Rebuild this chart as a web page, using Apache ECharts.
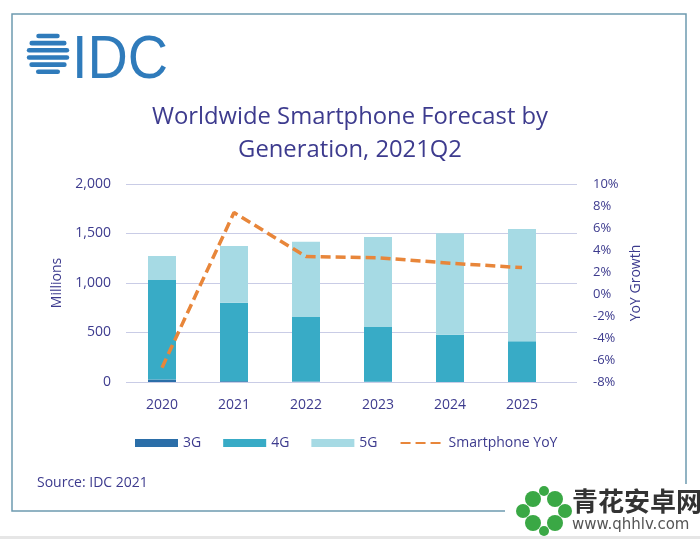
<!DOCTYPE html>
<html>
<head>
<meta charset="utf-8">
<script src="https://cdn.jsdelivr.net/npm/echarts@6/dist/echarts.min.js"></script>
<style>html,body{margin:0;padding:0;background:#fff;}#c{width:700px;height:539px;}</style>
</head>
<body>
<div id="c"></div>
<script>
const categories = ['2020', '2021', '2022', '2023', '2024', '2025'];
const g3 = [25, 8, 4, 2, 1, 0.5];
const g4 = [1005, 793, 653, 554, 477, 411];
const g5 = [243, 573, 760, 909, 1024, 1134];
const yoy = [-6.7, 7.4, 3.4, 3.3, 2.8, 2.4];
const leftTicks = [0, 500, 1000, 1500, 2000];
const rightTicks = [-8, -6, -4, -2, 0, 2, 4, 6, 8, 10];

const txt = '#3d3b8e';
const font = '"Open Sans", "Noto Sans", sans-serif';

const chart = echarts.init(document.getElementById('c'), null, {renderer: 'canvas'});

// IDC globe stripes (decorative logo)
const globe = [];
const gcx = 48, gcy = 54, gr = 21.5;
const stripes = 6;
const sh = (2 * gr) / stripes;
for (let i = 0; i < stripes; i++) {
  const y0 = gcy - gr + i * sh + 1.2;
  const h = sh - 2.6;
  const ym = y0 + h / 2;
  const half = Math.sqrt(Math.max(0, gr * gr - (ym - gcy) * (ym - gcy)));
  globe.push({type: 'rect', shape: {x: gcx - half, y: y0, width: half * 2, height: h, r: h / 2},
    style: {fill: '#2f7bbb'}});
}

chart.setOption({
  animation: false,
  backgroundColor: '#ffffff',
  textStyle: {fontFamily: font},
  title: {
    text: 'Worldwide Smartphone Forecast by\nGeneration, 2021Q2',
    left: 'center', top: 96,
    textStyle: {fontFamily: font, fontWeight: 'normal', fontSize: 23.8, color: '#3d3b8e', lineHeight: 33}
  },
  legend: {
    left: 130, top: 431,
    itemWidth: 43, itemHeight: 8, itemGap: 22,
    textStyle: {color: txt, fontSize: 14, fontFamily: font},
    data: [
      {name: '3G', icon: 'rect'},
      {name: '4G', icon: 'rect'},
      {name: '5G', icon: 'rect'},
      {name: 'Smartphone YoY', itemStyle: {opacity: 0}}
    ]
  },
  grid: [
    {left: 126, right: 142, top: 184, bottom: 157},
    {left: 126, right: 123, top: 184, bottom: 157}
  ],
  xAxis: [
    {type: 'category', data: categories, gridIndex: 0,
      axisLine: {show: false}, axisTick: {show: false},
      axisLabel: {color: txt, fontSize: 14, margin: 16, fontFamily: font}},
    {type: 'category', data: categories, gridIndex: 1, show: false}
  ],
  yAxis: [
    {type: 'value', gridIndex: 0, min: 0, max: 2000, interval: 500,
      name: 'Millions', nameLocation: 'middle', nameGap: 53, nameRotate: 90,
      nameTextStyle: {color: txt, fontSize: 14, fontFamily: font},
      axisLine: {show: false}, axisTick: {show: false}, splitLine: {show: false},
      axisLabel: {color: txt, fontSize: 14, margin: 15, fontFamily: font,
        formatter: v => v.toLocaleString('en-US')}},
    {type: 'value', gridIndex: 0, position: 'right', min: -8, max: 10, interval: 2,
      name: 'YoY Growth', nameLocation: 'middle', nameGap: 63, nameRotate: 90,
      nameTextStyle: {color: txt, fontSize: 14, fontFamily: font},
      axisLine: {show: false}, axisTick: {show: false}, splitLine: {show: false},
      axisLabel: {color: txt, fontSize: 13, margin: 35, fontFamily: font, formatter: '{value}%'}},
    {type: 'value', gridIndex: 1, min: 0, max: 2000, interval: 500,
      axisLine: {show: false}, axisTick: {show: false}, axisLabel: {show: false},
      splitLine: {lineStyle: {color: '#c9cce6', width: 1.2}}}
  ],
  series: [
    {name: '3G', type: 'bar', stack: 'gen', data: g3, barWidth: 28, itemStyle: {color: '#2b6ea8'}},
    {name: '4G', type: 'bar', stack: 'gen', data: g4, barWidth: 28, itemStyle: {color: '#38abc6'}},
    {name: '5G', type: 'bar', stack: 'gen', data: g5, barWidth: 28, itemStyle: {color: '#a6dae4'}},
    {name: 'Smartphone YoY', type: 'line', yAxisIndex: 1, data: yoy, symbol: 'none',
      lineStyle: {color: '#e8863a', width: 3.5, type: [10, 5], cap: 'butt'},
      itemStyle: {color: '#e8863a'}, z: 5}
  ],
  graphic: [
    {type: 'rect', shape: {x: 12, y: 14, width: 674, height: 497},
      style: {fill: 'none', stroke: '#6e9bb0', lineWidth: 1.5}, z: -1},
    {type: 'group', children: globe},
    {type: 'text', x: 72, y: 30, scaleX: 0.9,
      style: {text: 'IDC', font: '62px "Liberation Sans", Arial, sans-serif', fill: '#2f7bbb'}},
    {type: 'text', x: 37, y: 476,
      style: {text: 'Source: IDC 2021', font: '14px "Open Sans", sans-serif', fill: txt}},
    {type: 'rect', shape: {x: 0, y: 536, width: 700, height: 3}, style: {fill: '#e6e6e6'}},
    {type: 'rect', shape: {x: 505, y: 484, width: 195, height: 52}, style: {fill: '#ffffff'}},
    {type: 'group', children: [
      {type: 'circle', shape: {cx: 533, cy: 499, r: 8}, style: {fill: '#3aa845'}},
      {type: 'circle', shape: {cx: 555, cy: 499, r: 8}, style: {fill: '#3aa845'}},
      {type: 'circle', shape: {cx: 533, cy: 523, r: 8}, style: {fill: '#3aa845'}},
      {type: 'circle', shape: {cx: 555, cy: 523, r: 8}, style: {fill: '#3aa845'}},
      {type: 'circle', shape: {cx: 523, cy: 511, r: 7}, style: {fill: '#3aa845'}},
      {type: 'circle', shape: {cx: 565, cy: 511, r: 7}, style: {fill: '#3aa845'}},
      {type: 'circle', shape: {cx: 544, cy: 511, r: 6}, style: {fill: '#ffffff'}},
      {type: 'circle', shape: {cx: 544, cy: 491, r: 5}, style: {fill: '#3aa845'}},
      {type: 'circle', shape: {cx: 544, cy: 531, r: 5}, style: {fill: '#3aa845'}}
    ]},
    {type: 'text', x: 572, y: 488,
      style: {text: '青花安卓网', font: 'bold 26px "Noto Sans CJK SC", sans-serif', fill: '#333333'}},
    {type: 'text', x: 572, y: 518,
      style: {text: 'www.qhhlv.com', font: '15px "DejaVu Sans", sans-serif', fill: '#555555'}}
  ]
});
</script>
</body>
</html>
